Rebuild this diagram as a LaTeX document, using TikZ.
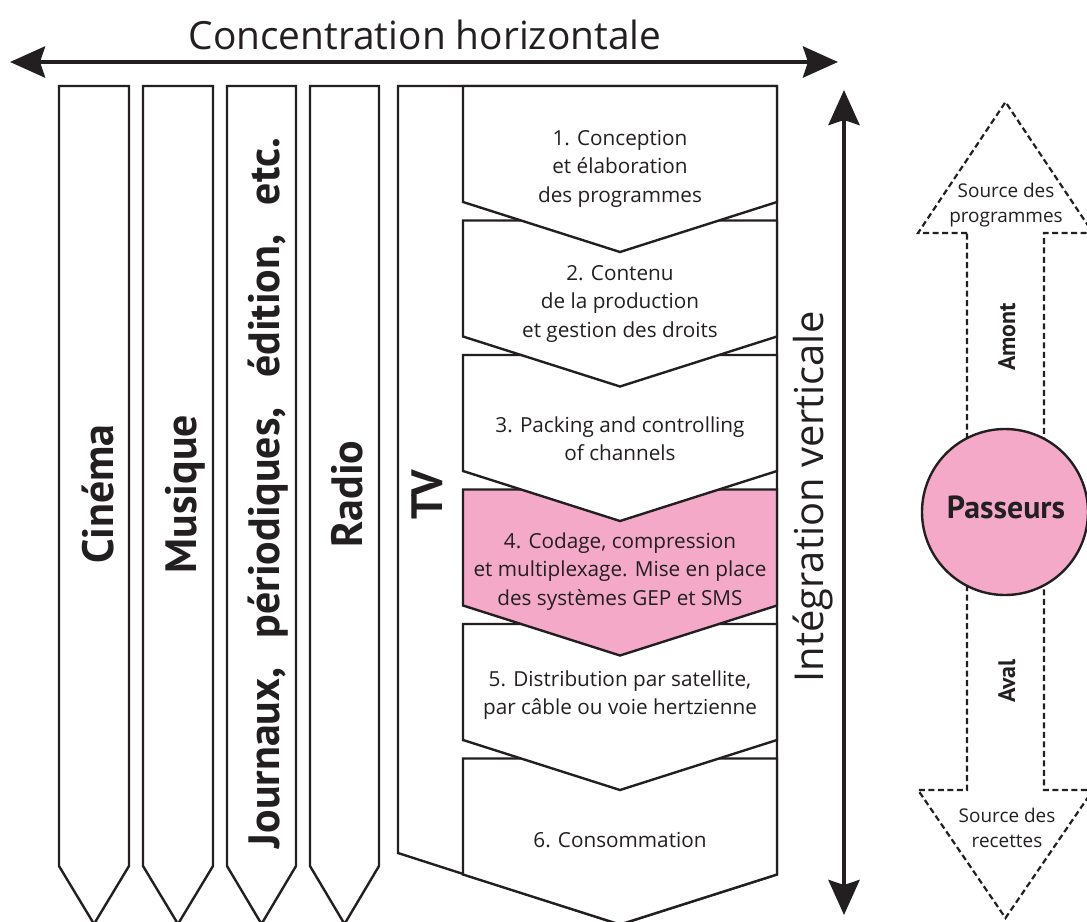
\documentclass[tikz,border=0pt]{standalone}
\usepackage{fontspec}
\setmainfont{Open Sans}
\newfontfamily\labf{PT Sans}
\usetikzlibrary{arrows.meta}
\definecolor{ink}{RGB}{35,31,32}
\definecolor{rose}{RGB}{244,169,201}
\begin{document}
\begin{tikzpicture}[x=1bp,y=-1bp,
  shp/.style={draw=ink, line width=2.4bp, line join=miter, fill=white},
  bigarrow/.style={draw=ink, line width=4.5bp, {Stealth[length=35bp,width=31bp,inset=5bp]}-{Stealth[length=35bp,width=31bp,inset=5bp]}},
  dsh/.style={draw=ink, line width=2.2bp, dash pattern=on 6bp off 3.5bp, line join=miter},
  lab/.style={rotate=90, anchor=base, inner sep=0pt, text=ink, font=\labf\bfseries\fontsize{44}{50}\selectfont},
  smalllab/.style={rotate=90, anchor=base, inner sep=0pt, text=ink, font=\labf\bfseries\fontsize{24}{28}\selectfont},
  big/.style={inner sep=0pt, text=ink, font=\fontsize{39}{48}\selectfont},
  chevtxt/.style={anchor=base, inner sep=0pt, text=ink, font=\fontsize{20.8}{28.7}\selectfont},
  srctxt/.style={anchor=base, inner sep=0pt, text=ink, font=\fontsize{19}{26}\selectfont}
]
\useasboundingbox (0,0) rectangle (1087,922);

% horizontal arrow
\coordinate (hl) at (10,62);
\coordinate (hr) at (838,62);
\draw[bigarrow] (hl) -- (hr);
\node[big, anchor=base] (conc) at (425,49) {Concentration horizontale};

% columns
\foreach \l/\r in {59/129,143/213,227/296,310/379}{
  \pgfmathsetmacro\m{(\l+\r)/2}
  \draw[shp] (\l,86) -- (\r,86) -- (\r,866) -- (\m,924) -- (\l,866) -- cycle;
}
\node[lab] (cin) at (113,494) {Cinéma};
\node[lab] (mus) at (196,494) {Musique};
\node[lab] (jou) at (279,493) {\makebox[710bp][s]{Journaux, périodiques, édition, etc.}};
\node[lab] (rad) at (362,494) {Radio};

% TV outer
\draw[shp] (398,86) -- (777,86) -- (777,874.5) -- (620,924.5) -- (398,853) -- cycle;
\node[lab] (tv) at (442,495) {TV};

% chevrons
\foreach \i/\fc in {6/white,5/white,4/rose,3/white,2/white,1/white}{
  \pgfmathsetmacro\t{86+134.5*(\i-1)}
  \pgfmathsetmacro\s{\t+116}
  \pgfmathsetmacro\p{\s+50}
  \draw[shp, fill=\fc] (463,\t) -- (777,\t) -- (777,\s) -- (620,\p) -- (463,\s) -- cycle;
}
\node[chevtxt] (c1) at (620,145) {\begin{tabular}[t]{@{}c@{}}1. Conception\\et élaboration\\des programmes\end{tabular}};
\node[chevtxt] (c2) at (620,280) {\begin{tabular}[t]{@{}c@{}}2. Contenu\\de la production\\et gestion des droits\end{tabular}};
\node[chevtxt] (c3) at (620,432) {\begin{tabular}[t]{@{}c@{}}3. Packing and controlling\\of channels\end{tabular}};
\node[chevtxt] (c4) at (620,548) {\begin{tabular}[t]{@{}c@{}}4. Codage, compression\\et multiplexage. Mise en place\\des systèmes GEP et SMS\end{tabular}};
\node[chevtxt] (c5) at (620,686) {\begin{tabular}[t]{@{}c@{}}5. Distribution par satellite,\\par câble ou voie hertzienne\end{tabular}};
\node[chevtxt] (c6) at (620,847) {6. Consommation};

% vertical arrow
\coordinate (vt) at (844,90);
\coordinate (vb) at (844,915);
\draw[bigarrow] (vb) -- (vt);
\node[big, rotate=90, anchor=base, font=\fontsize{40}{48}\selectfont] (integ) at (823,497) {Intégration verticale};

% dashed double arrow
\draw[dsh] (967,233) -- (918,233) -- (1005.5,102) -- (1093,233) -- (1044,233)
  -- (1044,790) -- (1093,790) -- (1005.5,918) -- (918,790) -- (967,790) -- cycle;
\node[srctxt] (srcp) at (1006,197) {\begin{tabular}[t]{@{}c@{}}Source des\\programmes\end{tabular}};
\node[srctxt] (srcr) at (1007,822) {\begin{tabular}[t]{@{}c@{}}Source des\\recettes\end{tabular}};
\node[smalllab] (amont) at (1015,337) {Amont};
\node[smalllab] (aval) at (1015,681) {Aval};

% circle
\node[circle, draw=ink, fill=rose, line width=2.4bp, minimum size=166bp, inner sep=0pt] (pass) at (1005,512) {};
\node[anchor=base, inner sep=0pt, text=ink, font=\labf\bfseries\fontsize{32}{36}\selectfont] (passt) at (1006,518) {Passeurs};
\end{tikzpicture}
\end{document}
